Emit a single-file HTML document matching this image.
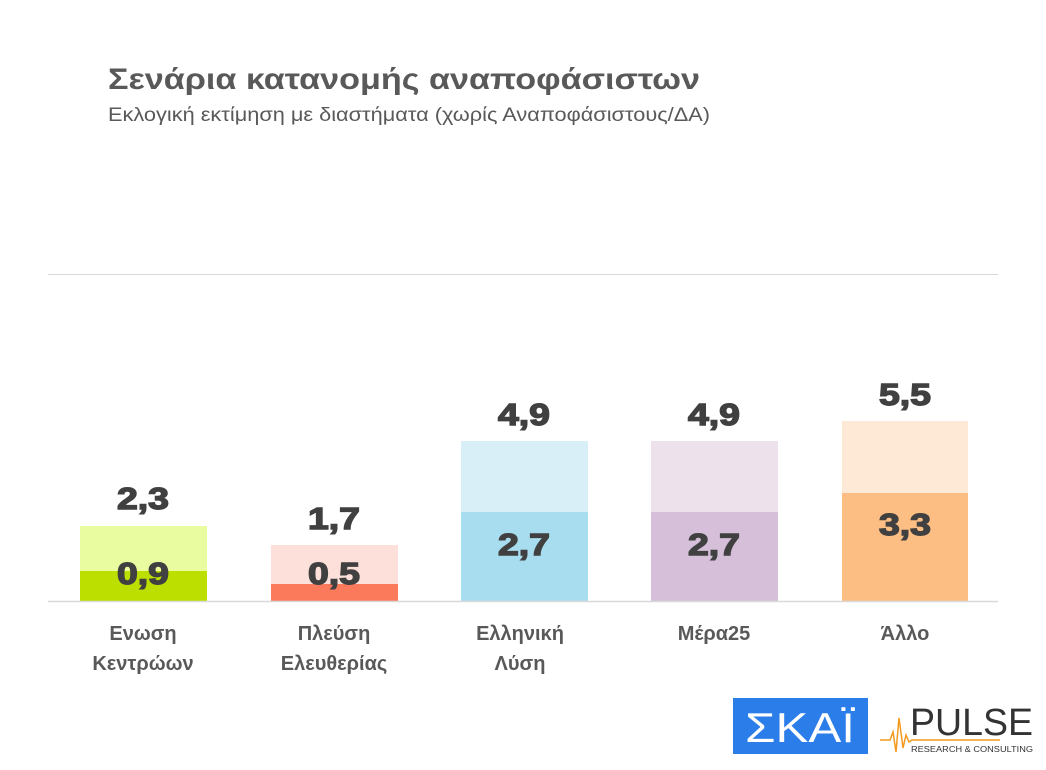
<!DOCTYPE html>
<html><head><meta charset="utf-8"><style>
html,body{margin:0;padding:0;background:#fff;}
svg{display:block;}
</style></head><body>
<svg width="1046" height="770" viewBox="0 0 1046 770" xmlns="http://www.w3.org/2000/svg" font-family="Liberation Sans, DejaVu Sans, sans-serif">
<text x="108" y="89" font-size="30" font-weight="bold" fill="#595959" textLength="592" lengthAdjust="spacingAndGlyphs">Σενάρια κατανομής αναποφάσιστων</text>
<text x="108" y="121" font-size="19" fill="#595959" textLength="602" lengthAdjust="spacingAndGlyphs">Εκλογική εκτίμηση με διαστήματα (χωρίς Αναποφάσιστους/ΔΑ)</text>
<line x1="48" y1="274.5" x2="998" y2="274.5" stroke="#d9d9d9" stroke-width="1"/>
<rect x="80" y="526" width="127" height="75" fill="#eafca0"/>
<rect x="80" y="571" width="127" height="30" fill="#bddf00"/>
<rect x="271" y="545" width="127" height="56" fill="#fde0d9"/>
<rect x="271" y="584" width="127" height="17" fill="#fb7a5c"/>
<rect x="461" y="441" width="127" height="160" fill="#d8eff8"/>
<rect x="461" y="512" width="127" height="89" fill="#a8dcef"/>
<rect x="651" y="441" width="127" height="160" fill="#ede1ec"/>
<rect x="651" y="512" width="127" height="89" fill="#d5bfd9"/>
<rect x="842" y="421" width="126" height="180" fill="#fee8d6"/>
<rect x="842" y="493" width="126" height="108" fill="#fdbe84"/>
<line x1="48" y1="601.5" x2="998" y2="601.5" stroke="#d9d9d9" stroke-width="1.5"/>
<g font-size="31" font-weight="bold" fill="#404040" stroke="#404040" stroke-width="1.4" text-anchor="middle">
<text x="143" y="509" textLength="52" lengthAdjust="spacingAndGlyphs">2,3</text>
<text x="143" y="584" textLength="52" lengthAdjust="spacingAndGlyphs">0,9</text>
<text x="334" y="529" textLength="52" lengthAdjust="spacingAndGlyphs">1,7</text>
<text x="334" y="584" textLength="52" lengthAdjust="spacingAndGlyphs">0,5</text>
<text x="524" y="425" textLength="52" lengthAdjust="spacingAndGlyphs">4,9</text>
<text x="524" y="555" textLength="52" lengthAdjust="spacingAndGlyphs">2,7</text>
<text x="714" y="425" textLength="52" lengthAdjust="spacingAndGlyphs">4,9</text>
<text x="714" y="555" textLength="52" lengthAdjust="spacingAndGlyphs">2,7</text>
<text x="905" y="405" textLength="52" lengthAdjust="spacingAndGlyphs">5,5</text>
<text x="905" y="535" textLength="52" lengthAdjust="spacingAndGlyphs">3,3</text>
</g>
<g font-size="20" font-weight="bold" fill="#595959" text-anchor="middle">
<text x="143" y="640">Ενωση</text>
<text x="143" y="670">Κεντρώων</text>
<text x="334" y="640">Πλεύση</text>
<text x="334" y="670">Ελευθερίας</text>
<text x="520" y="640">Ελληνική</text>
<text x="520" y="670">Λύση</text>
<text x="714" y="640">Μέρα25</text>
<text x="905" y="640">Άλλο</text>
</g>
<rect x="733" y="698" width="135" height="56" fill="#2b7de9"/>
<text x="800" y="742" font-size="42" fill="#fff" text-anchor="middle" textLength="110" lengthAdjust="spacingAndGlyphs">ΣΚΑΪ</text>
<text x="910" y="735" font-size="38" fill="#333" textLength="123" lengthAdjust="spacingAndGlyphs">PULSE</text>
<polyline points="880,740 890,740 893,732 896,752 899,718 903,748 906,735 909,742 912,740 1000,740" fill="none" stroke="#f39a1e" stroke-width="1.5"/>
<text x="911" y="752" font-size="8" fill="#333" textLength="122" lengthAdjust="spacingAndGlyphs">RESEARCH &amp; CONSULTING</text>
</svg>
</body></html>
